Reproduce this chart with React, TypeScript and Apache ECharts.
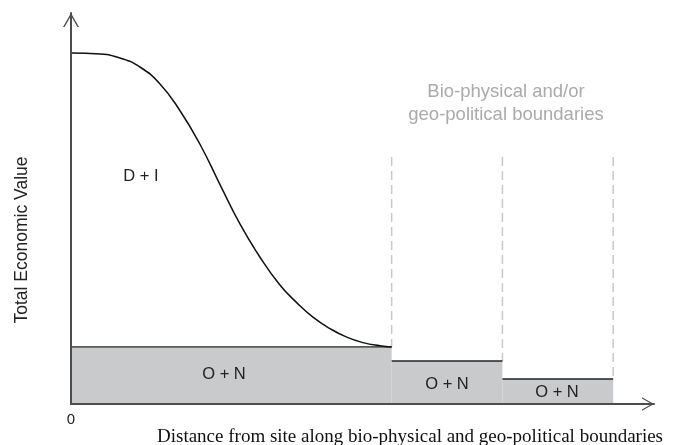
import React, { useEffect, useRef } from 'react';
import * as echarts from 'echarts';

// Distance along the x axis (0..100) and Total Economic Value (0..100)
const curveDistance = [0, 5, 8.4, 11.8, 15.3, 18.7, 22.1, 25.6, 29, 32.4, 35.8, 38.8, 41.5, 44.4, 47.3, 50.1, 53, 55];
const curveValue = [89.8, 89.5, 88.5, 86.2, 81.8, 75, 66.5, 56, 46, 37.6, 30.5, 25.8, 22.2, 19.3, 17.1, 15.7, 14.9, 14.6];
const boundaryDistance = [0, 55, 74, 93];
const baseValue = [14.6, 11, 6.4];
const dashTopValue = 63.2;
const xTickValues = [0];
const regionLabels = ['O + N', 'O + N', 'O + N'];
const curveLabel = 'D + I';
const boundaryNote = ['Bio-physical and/or', 'geo-political boundaries'];
const xTitle = 'Distance from site along bio-physical and geo-political boundaries';
const yTitle = 'Total Economic Value';

const SANS = '"Liberation Sans", Arial, sans-serif';
const SERIF = '"Liberation Serif", "Times New Roman", serif';
const ARROW = 'path://M0,14 L8,0 L16,14 L14.4,14 L8,2.8 L1.6,14 Z';

export default function App() {
  const ref = useRef<HTMLDivElement>(null);
  useEffect(() => {
    if (!ref.current) return;
    const chart = echarts.init(ref.current, undefined, { renderer: 'svg' });

    const series: any[] = [];
    baseValue.forEach((v, i) => {
      series.push({
        type: 'line',
        data: [
          [boundaryDistance[i], v],
          [boundaryDistance[i + 1], v],
        ],
        symbol: 'none',
        lineStyle: { color: '#222', width: 1.3 },
        areaStyle: { color: '#c9cacc', opacity: 1 },
        z: 2,
      });
    });
    boundaryDistance.slice(1).forEach((d, i) => {
      series.push({
        type: 'line',
        data: [
          [d, dashTopValue],
          [d, baseValue[i]],
        ],
        symbol: 'none',
        lineStyle: { color: '#c8c8c8', width: 1.5, type: [9, 5] },
        z: 1,
      });
    });
    series.push({
      type: 'line',
      data: curveDistance.map((d, i) => [d, curveValue[i]]),
      smooth: 0.5,
      symbol: 'none',
      lineStyle: { color: '#111', width: 1.5 },
      z: 3,
    });

    chart.setOption({
      animation: false,
      grid: { left: 71, right: 26, top: 13, bottom: 41 },
      xAxis: {
        type: 'value',
        min: 0,
        max: 100,
        interval: 100,
        z: 10,
        splitLine: { show: false },
        axisTick: { show: false },
        axisLine: {
          show: true,
          lineStyle: { color: '#4d4d4d', width: 2 },
          symbol: ['none', ARROW],
          symbolSize: [16, 12],
          symbolOffset: [0, -6],
        },
        axisLabel: {
          margin: 7,
          fontSize: 15,
          color: '#222',
          fontFamily: SANS,
          formatter: (v: number) => (xTickValues.includes(v) ? String(v) : ''),
        },
      },
      yAxis: {
        type: 'value',
        min: 0,
        max: 100,
        z: 10,
        splitLine: { show: false },
        axisTick: { show: false },
        axisLabel: { show: false },
        axisLine: {
          show: true,
          lineStyle: { color: '#4d4d4d', width: 2 },
          symbol: ['none', ARROW],
          symbolSize: [16, 14],
          symbolOffset: [0, -7],
        },
      },
      graphic: [
        {
          type: 'text',
          x: 141,
          y: 175,
          style: { text: curveLabel, fontSize: 16.5, fill: '#222', fontFamily: SANS, align: 'center', verticalAlign: 'middle' },
        },
        ...[ [224, 373], [447, 383], [557, 391] ].map((p, i) => ({
          type: 'text',
          x: p[0],
          y: p[1],
          z: 20,
          style: { text: regionLabels[i], fontSize: 16.5, fill: '#222', fontFamily: SANS, align: 'center', verticalAlign: 'middle' },
        })),
        ...[90, 113].map((y, i) => ({
          type: 'text',
          x: 506,
          y,
          style: { text: boundaryNote[i], fontSize: 18.5, fill: '#aaaaaa', fontFamily: SANS, align: 'center', verticalAlign: 'middle' },
        })),
        {
          type: 'text',
          x: 410,
          y: 435,
          style: { text: xTitle, fontSize: 19, fill: '#111', fontFamily: SERIF, align: 'center', verticalAlign: 'middle' },
        },
        {
          type: 'text',
          x: 21,
          y: 240,
          rotation: Math.PI / 2,
          style: { text: yTitle, fontSize: 17.5, fill: '#222', fontFamily: SANS, align: 'center', verticalAlign: 'middle' },
        },
      ],
      series,
    });
    return () => chart.dispose();
  }, []);
  return <div ref={ref} style={{ position: 'fixed', left: 0, top: 0, width: 680, height: 445 }} />;
}
